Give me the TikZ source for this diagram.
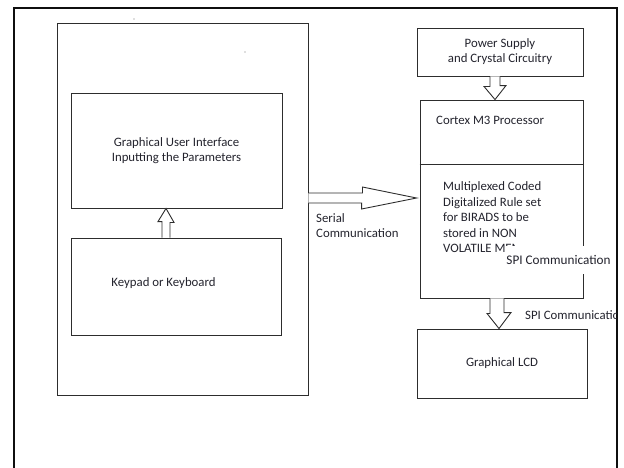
\documentclass[tikz,border=0pt]{standalone}
\usepackage{fontspec}
\setmainfont{Carlito}
\definecolor{boxline}{RGB}{45,45,45}
\definecolor{frameline}{RGB}{15,15,15}
\definecolor{labeltext}{RGB}{35,35,45}
\usetikzlibrary{calc}

\begin{document}
\begin{tikzpicture}[x=1pt,y=-1pt,
  blockbox/.style={draw=boxline, line width=0.9pt, inner sep=0pt, align=center,
    font=\fontsize{12.8}{15}\selectfont, text=labeltext},
  plainlabel/.style={inner sep=0pt, align=left, font=\fontsize{12.8}{15.6}\selectfont, text=labeltext},
  hollowarrow/.style={draw=boxline, line width=0.9pt, fill=white, line join=miter}]
  \useasboundingbox (0,0) rectangle (624,467);

  %--- outer frame ---
  \draw[frameline, line width=2.2pt] (14,468) -- (14,8) -- (617,8) -- (617,468);
  \fill[black!55] (134,19) circle (0.7pt);
  \fill[black!55] (245,52) circle (0.7pt);

  %--- host side ---
  \node[blockbox, minimum width=251pt, minimum height=372pt] (host) at (182.5,209) {};
  \node[blockbox, minimum width=211pt, minimum height=115pt] (gui) at (176.5,150.5)
    {Graphical User Interface\\Inputting the Parameters};
  \node[blockbox, minimum width=210pt, minimum height=97pt] (keypad) at (176,286.5) {};
  \node[plainlabel] (keypadtext) at (163.5,283) {Keypad or Keyboard};

  \draw[hollowarrow] ([xshift=-14pt]keypad.north) -- ++(0,-16) -- ++(-4,0)
    -- ([xshift=-10.5pt]gui.south) -- ++(8,14) -- ++(-4,0) -- ([xshift=-6pt]keypad.north);

  %--- controller side ---
  \node[blockbox, minimum width=166pt, minimum height=48pt] (power) at (500,52)
    {Power Supply\\and Crystal Circuitry};
  \node[blockbox, minimum width=163pt, minimum height=198pt] (cortex) at (501.5,199) {};
  \draw[boxline, line width=0.9pt] (cortex.west |- 0,164) -- (cortex.east |- 0,164);
  \node[plainlabel, anchor=base west] (cortextitle) at (436,124) {Cortex M3 Processor};
  \begin{scope}
    \clip (0,0) -- (624,0) -- (624,238) -- (515,238) -- (515,467) -- (0,467) -- cycle;
    \node[plainlabel, anchor=north west] (rules) at (443,181.5)
      {Multiplexed Coded\\Digitalized Rule set\\for BIRADS to be\\stored in NON\\VOLATILE MEMORY};
  \end{scope}
  \node[blockbox, minimum width=170pt, minimum height=69pt] (lcd) at (502,363.5) {Graphical LCD};

  \draw[hollowarrow] ([xshift=-10pt]power.south) -- ++(0,10) -- ++(-6,0)
    -- ([xshift=-6.5pt]cortex.north) -- ++(11,-14) -- ++(-6,0) -- (power.south);
  \draw[hollowarrow] ([xshift=-11.5pt]cortex.south) -- ++(0,15) -- ++(-3,0)
    -- ([xshift=-3pt]lcd.north) -- ++(12,-16) -- ++(-7,0) -- ([xshift=2.5pt]cortex.south);

  %--- serial link ---
  \draw[hollowarrow] ([yshift=16pt]host.east) -- ++(54,0) -- ++(0,-6)
    -- ([xshift=-3pt,yshift=1pt]cortex.west) -- ++(-55,11) -- ++(0,-6) -- ([yshift=6pt]host.east);
  \node[plainlabel, anchor=north west] (serial) at (316,213) {Serial\\Communication};

  %--- SPI labels ---
  \node[plainlabel, fill=white, inner xsep=1pt, minimum height=28pt,
    font=\fontsize{13.2}{15}\selectfont] (spiupper) at (558.5,260) {SPI Communication};
  \begin{scope}
    \clip (0,0) rectangle (616,467);
    \node[plainlabel, anchor=west] (spilower) at (525,315) {SPI Communication};
  \end{scope}
\end{tikzpicture}
\end{document}
